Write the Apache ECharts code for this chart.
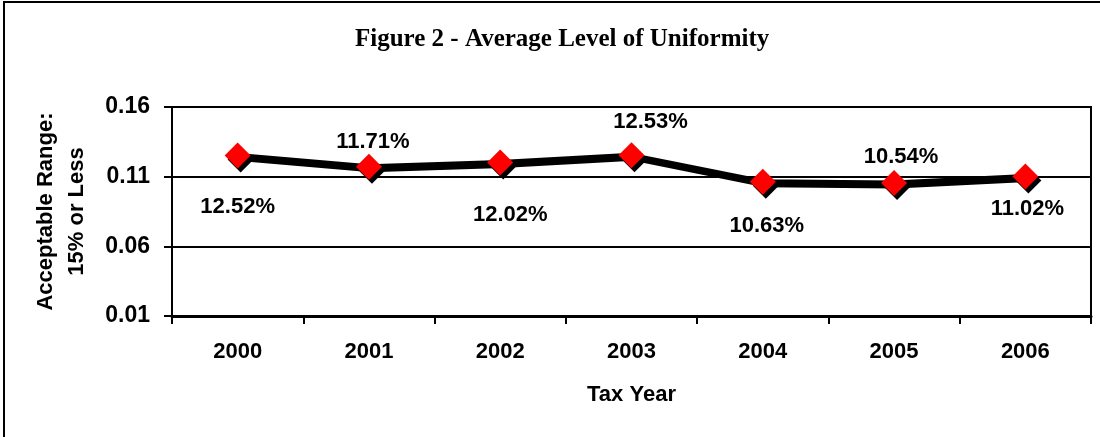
<!DOCTYPE html>
<html>
<head>
<meta charset="utf-8">
<script src="https://cdn.jsdelivr.net/npm/echarts@6/dist/echarts.min.js"></script>
<style>
  html, body { margin: 0; padding: 0; background: #fff; }
  #chart { width: 1100px; height: 437px; }
</style>
</head>
<body>
<div id="chart"></div>
<script>
// ---- data ----
const taxYears = ['2000', '2001', '2002', '2003', '2004', '2005', '2006'];
const uniformity = [0.1252, 0.1171, 0.1202, 0.1253, 0.1063, 0.1054, 0.1102];
const yTicks = [0.01, 0.06, 0.11, 0.16];

// ---- layout (label offsets in px, not data) ----
const labelOffsets = [[0, 51], [4, -25], [10, 52], [19, -33], [4, 44], [7, -26], [2, 33]];

const FONT = 'Liberation Sans, Arial, sans-serif';
const chart = echarts.init(document.getElementById('chart'), null, { renderer: 'canvas' });

chart.setOption({
  backgroundColor: '#ffffff',
  animation: false,
  graphic: [{
    type: 'rect',
    shape: { x: 4, y: 2, width: 1200, height: 500 },
    style: { fill: 'none', stroke: '#000', lineWidth: 2 },
    z: -1
  }],
  title: {
    text: 'Figure 2 - Average Level of Uniformity',
    left: 350,
    top: 22,
    textStyle: { fontFamily: 'Liberation Serif, Times New Roman, serif', fontWeight: 'bold', fontSize: 25, color: '#000' }
  },
  grid: {
    left: 172, right: 9, top: 107, bottom: 121,
    show: true, borderColor: '#000', borderWidth: 2, backgroundColor: '#fff'
  },
  xAxis: {
    type: 'category',
    data: taxYears,
    boundaryGap: true,
    name: 'Tax Year',
    nameLocation: 'middle',
    nameGap: 68,
    nameTextStyle: { fontFamily: FONT, fontWeight: 'bold', fontSize: 22, color: '#000' },
    axisLine: { lineStyle: { color: '#000', width: 3 } },
    axisTick: { show: true, length: 8, lineStyle: { color: '#000', width: 2 } },
    axisLabel: { margin: 25, fontFamily: FONT, fontWeight: 'bold', fontSize: 22, color: '#000' },
    splitLine: { show: false }
  },
  yAxis: {
    type: 'value',
    min: yTicks[0],
    max: yTicks[yTicks.length - 1],
    interval: 0.05,
    name: 'Acceptable Range:\n15% or Less',
    nameLocation: 'middle',
    nameGap: 80,
    nameRotate: 90,
    nameTextStyle: { fontFamily: FONT, fontWeight: 'bold', fontSize: 22, lineHeight: 31, color: '#000', align: 'center' },
    axisLine: { show: true, lineStyle: { color: '#000', width: 2 } },
    axisTick: { show: true, length: 8, lineStyle: { color: '#000', width: 2 } },
    axisLabel: { margin: 22, fontFamily: FONT, fontWeight: 'bold', fontSize: 23, color: '#000',
      formatter: v => v.toFixed(2) },
    splitLine: { show: true, lineStyle: { color: '#000', width: 2 } }
  },
  series: [{
    type: 'line',
    data: uniformity.map((v, i) => ({
      value: v,
      label: { offset: labelOffsets[i] }
    })),
    symbol: 'diamond',
    symbolSize: 26,
    lineStyle: { color: '#000', width: 5, shadowColor: '#000', shadowOffsetX: 2, shadowOffsetY: 3, shadowBlur: 0 },
    itemStyle: { color: '#ff0000', borderWidth: 0, shadowColor: '#000', shadowOffsetX: 3, shadowOffsetY: 4, shadowBlur: 0 },
    label: {
      show: true,
      position: 'inside',
      formatter: p => (p.value * 100).toFixed(2) + '%',
      fontFamily: FONT, fontWeight: 'bold', fontSize: 22, color: '#000'
    },
    emphasis: { disabled: true },
    z: 5
  }]
});
</script>
</body>
</html>
